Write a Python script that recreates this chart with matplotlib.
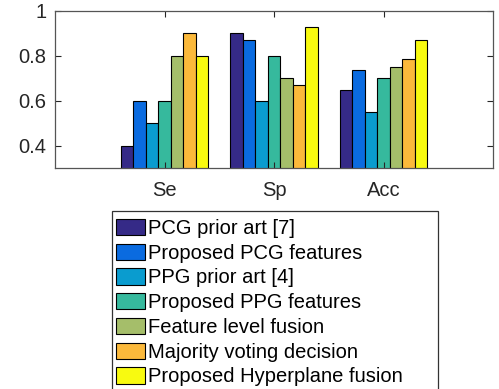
import numpy as np
import matplotlib.pyplot as plt
from matplotlib.patches import Rectangle

plt.rcParams['font.family'] = ['Liberation Sans', 'DejaVu Sans']

metrics = ['Se', 'Sp', 'Acc']
methods = ['PCG prior art [7]', 'Proposed PCG features', 'PPG prior art [4]',
           'Proposed PPG features', 'Feature level fusion',
           'Majority voting decision', 'Proposed Hyperplane fusion']
scores = [
    [0.40, 0.90, 0.65],
    [0.60, 0.87, 0.735],
    [0.50, 0.60, 0.55],
    [0.60, 0.80, 0.70],
    [0.80, 0.70, 0.75],
    [0.90, 0.67, 0.785],
    [0.80, 0.93, 0.87],
]
colors = ['#352a87', '#0a6be0', '#0a9ccf', '#36b99d', '#a5be6a', '#fbb93b', '#f8fa10']

W, H = 499, 389
fig = plt.figure(figsize=(W / 100, H / 100), dpi=100)
ax = fig.add_axes([55 / W, 1 - 168 / H, 438 / W, 157 / H])

x = np.arange(1, len(metrics) + 1)
n = len(methods)
group = min(0.8, n / (n + 1.5))
w = group / n
bars = []
for i in range(n):
    off = (i - (n - 1) / 2) * w
    b = ax.bar(x + off, scores[i], width=w, color=colors[i],
               edgecolor='black', linewidth=0.8, label=methods[i])
    bars.append(b)

ax.set_xlim(0, 4)
ax.set_ylim(0.3, 1.0)
ax.set_xticks(x)
ax.set_xticklabels(metrics)
ax.set_yticks([0.4, 0.6, 0.8, 1.0])
ax.set_yticklabels(['0.4', '0.6', '0.8', '1'])
ax.tick_params(direction='in', length=4, width=0.8, labelsize=14.5,
               colors='#262626', top=True, right=True, pad=6)
ax.tick_params(axis='x', pad=9)
for s in ax.spines.values():
    s.set_color('#555555')
    s.set_linewidth(0.9)

# legend box runs past the bottom of the figure
fig.patches.append(Rectangle((112 / W, -0.1), (438 - 112) / W, 0.1 + 1 - 211 / H,
                             transform=fig.transFigure, facecolor='white',
                             edgecolor='#333333', linewidth=0.9))

leg = fig.legend(handles=bars, labels=methods, loc='upper left',
                 bbox_to_anchor=(116 / W, 1 - 219 / H),
                 fontsize=14.5, frameon=False,
                 handlelength=1.44, handleheight=0.85,
                 handletextpad=0.15, labelspacing=0.285, borderpad=0,
                 borderaxespad=0)

fig.savefig('out.png', dpi=100)
